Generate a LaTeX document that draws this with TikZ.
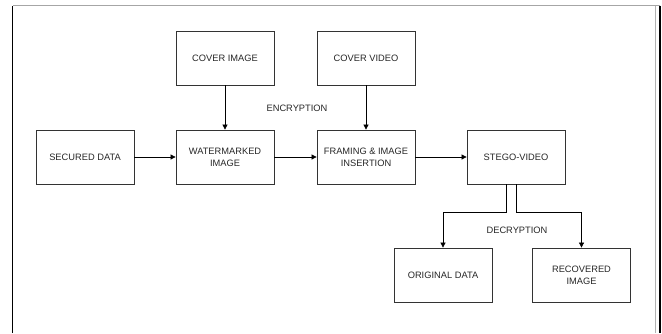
\documentclass[tikz,border=0pt]{standalone}
\usepackage{fontspec}
\setmainfont{Liberation Sans}
\usetikzlibrary{arrows.meta}
\tikzset{
  box/.style={draw=black!80, line width=0.8pt, minimum width=98pt, minimum height=54pt,
    align=center, font=\fontsize{9.3}{12}\selectfont, text=black!85, inner sep=1pt},
  lbl/.style={font=\fontsize{9.3}{12}\selectfont, text=black!85},
  arr/.style={-{Triangle[length=5pt,width=5pt]}, line width=0.7pt}
}
\begin{document}
\begin{tikzpicture}[x=1pt,y=-1pt]
    \useasboundingbox (0,0) rectangle (662,333);

    % Frame
    \draw[gray!70, line width=1.2pt] (12.5,5.5) -- (660,5.5);
    \draw[gray!60, line width=0.6pt] (655,5.5) -- (655,333);
    \draw[line width=1.6pt] (12.5,333) -- (12.5,5.5);
    \draw[line width=1.6pt] (660,5.5) -- (660,333);

    % Blocks
    \node[box] (secured) at (85,157) {SECURED DATA};
    \node[box] (watermarked) at (225,157) {WATERMARKED\\IMAGE};
    \node[box] (framing) at (366,157) {FRAMING \& IMAGE\\INSERTION};
    \node[box] (stego) at (516,157) {STEGO-VIDEO};
    \node[box] (coverimg) at (225,58) {COVER IMAGE};
    \node[box] (covervid) at (366,58) {COVER VIDEO};
    \node[box] (original) at (443,275) {ORIGINAL DATA};
    \node[box] (recovered) at (581.5,275) {RECOVERED\\IMAGE};

    % Labels
    \node[lbl] (enc) at (297,108) {ENCRYPTION};
    \node[lbl] (dec) at (517,230) {DECRYPTION};

    % Encryption path
    \draw[arr] (secured) -- (watermarked);
    \draw[arr] (watermarked) -- (framing);
    \draw[arr] (framing) -- (stego);
    \draw[arr] (coverimg) -- (watermarked);
    \draw[arr] (covervid) -- (framing);

    % Decryption path
    \draw[arr] ([xshift=-10pt]stego.south) -- ++(0,28) -| (original.north);
    \draw[arr] (stego.south) -- ++(0,28) -| (recovered.north);
\end{tikzpicture}
\end{document}
